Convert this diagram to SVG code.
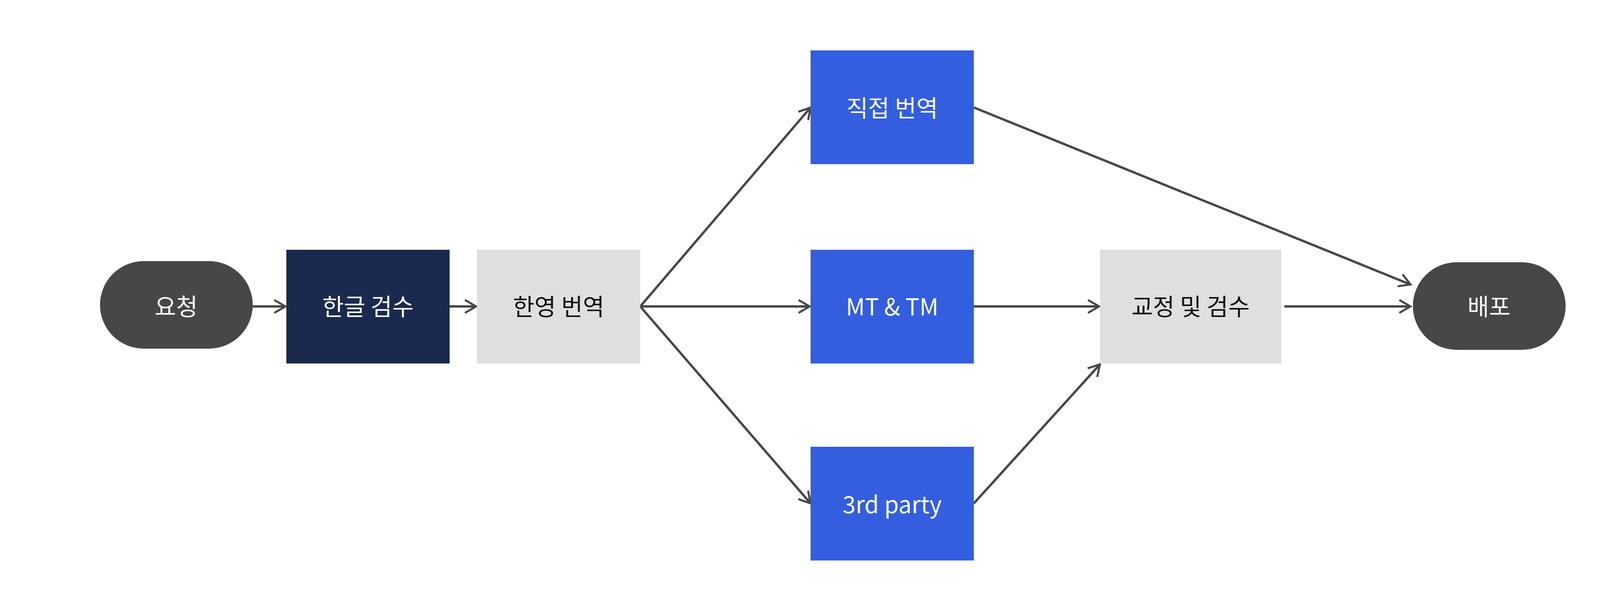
<svg xmlns="http://www.w3.org/2000/svg" width="4226" height="1576" viewBox="0 0 4226 1576">
<style>
text{font-family:"Noto Sans CJK KR","Noto Sans",sans-serif;font-size:60px;text-anchor:middle;dominant-baseline:central}
.w{fill:#fff}.k{fill:#111}
.c line{stroke:#474747;stroke-width:6;marker-end:url(#a)}
</style>
<defs><marker id="a" markerWidth="12" markerHeight="12" refX="10" refY="6" orient="auto" markerUnits="userSpaceOnUse" viewBox="0 0 12 12" overflow="visible"><path d="M-28,-16 L10,6 L-28,28" transform="scale(0.75) translate(3,2)" fill="none" stroke="#474747" stroke-width="7"/></marker></defs>
<rect width="4226" height="1576" fill="#fff"/>
<g class="c">
<line x1="647" y1="784" x2="731" y2="784"/>
<line x1="1151" y1="784" x2="1219" y2="784"/>
<line x1="1639" y1="784" x2="2075" y2="275"/>
<line x1="1639" y1="784" x2="2073" y2="784"/>
<line x1="1639" y1="784" x2="2075" y2="1288"/>
<line x1="2493" y1="275" x2="3611" y2="728"/>
<line x1="2493" y1="784" x2="2814" y2="784"/>
<line x1="2493" y1="1288" x2="2816" y2="932"/>
<line x1="3288" y1="784" x2="3611" y2="784"/>
</g>
<g id="n1"><rect x="256" y="668" width="391" height="224" rx="112" fill="#474747"/><text class="w" x="451" y="780">요청</text></g>
<g id="n2"><rect x="733" y="639" width="418" height="291" fill="#1a2a4f"/><text class="w" x="942" y="780">한글 검수</text></g>
<g id="n3"><rect x="1221" y="639" width="418" height="291" fill="#dedfde"/><text class="k" x="1430" y="780">한영 번역</text></g>
<g id="n4"><rect x="2075" y="129" width="418" height="291" fill="#345ee0"/><text class="w" x="2284" y="272">직접 번역</text></g>
<g id="n5"><rect x="2075" y="639" width="418" height="291" fill="#345ee0"/><text class="w" x="2284" y="780">MT &amp; TM</text></g>
<g id="n6"><rect x="2075" y="1143" width="418" height="291" fill="#345ee0"/><text class="w" x="2284" y="1286">3rd party</text></g>
<g id="n7"><rect x="2816" y="639" width="464" height="291" fill="#dedfde"/><text class="k" x="3048" y="780">교정 및 검수</text></g>
<g id="n8"><rect x="3617" y="671" width="391" height="224" rx="112" fill="#474747"/><text class="w" x="3812" y="780">배포</text></g>
</svg>
